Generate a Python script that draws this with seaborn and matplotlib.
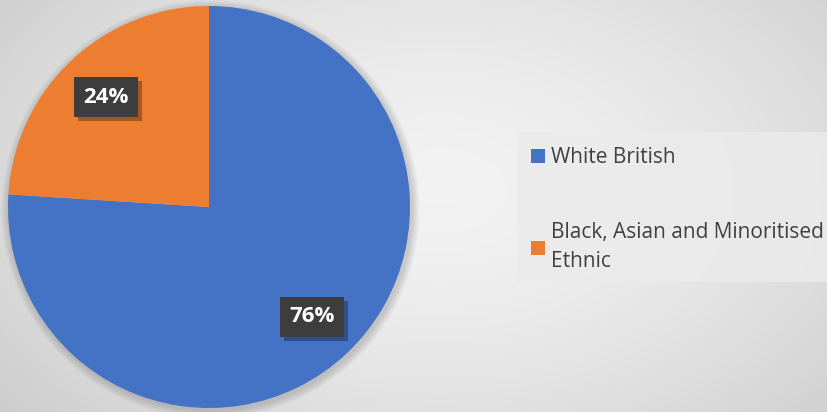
import numpy as np
import matplotlib
matplotlib.use("Agg")
import matplotlib.pyplot as plt
import matplotlib.patheffects as pe
import seaborn as sns
from matplotlib.patches import Rectangle, Patch, Circle

sns.set_style("white")
plt.rcParams['font.family'] = ['Open Sans', 'DejaVu Sans']

categories = ["White British", "Black, Asian and Minoritised\nEthnic"]
values = [76, 24]
colors = ["#4472C4", "#ED7D31"]

W, H = 828, 412
fig = plt.figure(figsize=(W / 100, H / 100), dpi=100)

# background radial gradient
bg = fig.add_axes([0, 0, 1, 1])
yy, xx = np.mgrid[0:H, 0:W]
r = np.sqrt(((xx - 440) / 520.0) ** 2 + ((yy - 190) / 330.0) ** 2)
v = np.clip(0.95 - 0.13 * r ** 1.6, 0.80, 0.95)
img = np.dstack([v, v, v])
bg.imshow(img, extent=[0, W, H, 0], aspect='auto')
bg.set_xlim(0, W)
bg.set_ylim(H, 0)
bg.axis('off')

# legend background box
bg.add_patch(Rectangle((517, 132), 320, 150, facecolor='#ebebeb', edgecolor='none', alpha=0.85))

cx, cy, R = 209, 207, 201
ax = fig.add_axes([(cx - R) / W, (H - cy - R) / H, 2 * R / W, 2 * R / H])

# soft shadow
for i in range(8):
    ax.add_patch(Circle((0.008, -0.012), 1.0 + 0.005 * (i + 1), facecolor='#000000',
                        edgecolor='none', alpha=0.02, zorder=0, clip_on=False))

wedges, texts, autotexts = ax.pie(
    values, colors=colors, startangle=90, counterclock=False,
    autopct=lambda p: f"{p:.0f}%", pctdistance=0.75,
    wedgeprops=dict(linewidth=0, zorder=1),
    textprops=dict(color='white', fontsize=16, fontweight='bold'))
for t in autotexts:
    t.set_bbox(dict(boxstyle='square,pad=0.42', facecolor='#3d3d3d', edgecolor='none'))
    t.get_bbox_patch().set_path_effects([
        pe.SimplePatchShadow(offset=(3, -3), shadow_rgbFace='black', alpha=0.3),
        pe.Normal()])
    t.set_zorder(5)
ax.set_xlim(-1, 1)
ax.set_ylim(-1, 1)
ax.set_aspect('equal')

handles = [Patch(facecolor=c, edgecolor='none') for c in colors]
leg = fig.legend(handles, categories, loc='upper left',
                 bbox_to_anchor=(531 / W, 1 - 147 / H), frameon=False,
                 fontsize=15, handlelength=0.68, handleheight=0.68,
                 handletextpad=0.3, labelspacing=2.6, borderaxespad=0,
                 borderpad=0)
for t in leg.get_texts():
    t.set_color('#404040')
    t.set_linespacing(1.5)

fig.savefig("out.png", dpi=100)
